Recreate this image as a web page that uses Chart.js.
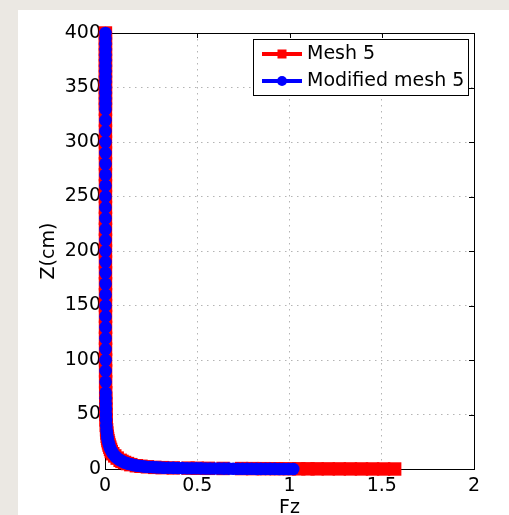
<!DOCTYPE html>
<html>
<head>
<meta charset="utf-8">
<script src="https://cdn.jsdelivr.net/npm/chart.js@4.4.1/dist/chart.umd.min.js"></script>
<style>
  html, body { margin: 0; padding: 0; background: #ebe8e3; }
  #fzChart { display: block; }
</style>
</head>
<body>
<canvas id="fzChart" width="509" height="515"></canvas>
<script>
// ===================== Fz vs depth profile =====================
var FONT = "'DejaVu Sans', 'Liberation Sans', Arial, sans-serif";

// near-surface points, Mesh 5
var zMesh5 = [0, 0.02, 0.04, 0.06, 0.08, 0.1, 0.12, 0.14, 0.16, 0.18, 0.2, 0.25, 0.3, 0.35, 0.4,
  0.5, 0.6, 0.7, 0.8, 1, 1.25, 1.5, 2, 2.5, 3, 4, 5, 6, 7, 8, 10, 12, 14, 16, 18, 20, 22, 24, 26, 28,
  30, 33, 36, 40, 45];
var fzMesh5 = [1.57, 1.51, 1.45, 1.39, 1.33, 1.27, 1.21, 1.15, 1.10, 1.05, 1.00, 0.93, 0.86, 0.80, 0.74,
  0.64, 0.56, 0.50, 0.45, 0.37, 0.31, 0.27, 0.23, 0.195, 0.17, 0.14, 0.122, 0.106, 0.092, 0.082, 0.066,
  0.053, 0.042, 0.034, 0.030, 0.026, 0.022, 0.019, 0.016, 0.014, 0.012, 0.010, 0.0085, 0.007, 0.0058];

// near-surface points, modified mesh 5
var zModified = [0, 0.02, 0.04, 0.06, 0.08, 0.10, 0.12, 0.14, 0.16, 0.18, 0.20, 0.23, 0.26, 0.29,
  0.32, 0.35, 0.39, 0.43, 0.47, 0.52, 0.57, 0.62, 0.68, 0.75, 0.82, 0.9, 1.0, 1.1, 1.2, 1.35, 1.5,
  1.7, 1.9, 2.1, 2.4, 2.7, 3.0, 3.4, 3.8, 4.3, 4.8, 5.4, 6, 7, 8, 9, 10, 11, 12, 13.5, 15, 16.5, 18,
  20, 22, 24, 26, 28, 30, 33, 36, 40, 45];
var fzModified = [1.02, 0.995, 0.97, 0.945, 0.92, 0.895, 0.87, 0.845, 0.82, 0.795, 0.77, 0.745, 0.72,
  0.695, 0.67, 0.645, 0.62, 0.595, 0.57, 0.545, 0.52, 0.495, 0.47, 0.445, 0.42, 0.395, 0.37, 0.345,
  0.32, 0.30, 0.28, 0.26, 0.24, 0.222, 0.205, 0.19, 0.176, 0.163, 0.151, 0.139, 0.128, 0.117, 0.107,
  0.094, 0.083, 0.074, 0.066, 0.059, 0.053, 0.046, 0.040, 0.035, 0.031, 0.026, 0.022, 0.019, 0.016,
  0.014, 0.012, 0.010, 0.0085, 0.007, 0.0058];

// deeper part, same for both meshes
var zDeep = [50, 55, 60, 65, 70, 80, 90, 100, 110, 120, 130, 140, 150, 160, 170, 180, 190, 200, 210,
  220, 230, 240, 250, 260, 270, 280, 290, 300, 310, 320, 330, 335, 340, 345, 350, 355, 360, 365, 370,
  375, 380, 385, 390, 395, 400];
var fzDeep = [0.0050, 0.0045, 0.0041, 0.0038, 0.0036, 0.0033, 0.0031, 0.0030, 0.0029, 0.0028, 0.0028,
  0.0027, 0.0027, 0.0026, 0.0026, 0.0026, 0.0025, 0.0025, 0.0025, 0.0025, 0.0025, 0.0024, 0.0024,
  0.0024, 0.0024, 0.0024, 0.0024, 0.0024, 0.0024, 0.0024, 0.0024, 0.0024, 0.0024, 0.0024, 0.0024,
  0.0024, 0.0024, 0.0024, 0.0024, 0.0024, 0.0024, 0.0024, 0.0024, 0.0024, 0.0024];

var xTicks = [0, 0.5, 1, 1.5, 2];
var yTicks = [0, 50, 100, 150, 200, 250, 300, 350, 400];
var seriesNames = ["Mesh 5", "Modified mesh 5"];

function toPoints(zs, fs) {
  return zs.map(function (z, i) { return { x: fs[i], y: z }; });
}

// gray page with the white figure panel
var panelBg = {
  id: "panelBg",
  beforeDraw: function (chart) {
    var c = chart.ctx;
    c.save();
    c.fillStyle = "#ebe8e3";
    c.fillRect(0, 0, chart.width, chart.height);
    c.fillStyle = "#ffffff";
    c.fillRect(18, 10, chart.width - 18, chart.height - 10);
    c.restore();
  }
};

// axes box with inward ticks (under the curves)
var axesBox = {
  id: "axesBox",
  beforeDatasetsDraw: function (chart) {
    var c = chart.ctx, a = chart.chartArea;
    var xs = chart.scales.x, ys = chart.scales.y;
    c.save();
    c.strokeStyle = "#000";
    c.lineWidth = 1;
    c.strokeRect(Math.round(a.left) + 0.5, Math.round(a.top) + 0.5,
      Math.round(a.right - a.left), Math.round(a.bottom - a.top));
    c.beginPath();
    xTicks.forEach(function (v) {
      var px = Math.round(xs.getPixelForValue(v)) + 0.5;
      c.moveTo(px, a.bottom); c.lineTo(px, a.bottom - 5);
      c.moveTo(px, a.top); c.lineTo(px, a.top + 5);
    });
    yTicks.forEach(function (v) {
      var py = Math.round(ys.getPixelForValue(v)) + 0.5;
      c.moveTo(a.left, py); c.lineTo(a.left + 5, py);
      c.moveTo(a.right, py); c.lineTo(a.right - 5, py);
    });
    c.stroke();
    c.restore();
  }
};

// boxed legend, line sample + marker
var boxLegend = {
  id: "boxLegend",
  afterDraw: function (chart) {
    var c = chart.ctx;
    var bx = 253, by = 39, bw = 215, bh = 56;
    c.save();
    c.fillStyle = "#fff";
    c.fillRect(bx, by, bw, bh);
    c.strokeStyle = "#000";
    c.lineWidth = 1;
    c.strokeRect(bx + 0.5, by + 0.5, bw, bh);
    chart.data.datasets.forEach(function (ds, i) {
      var yy = 54 + i * 27;
      c.strokeStyle = ds.borderColor;
      c.lineWidth = 4;
      c.beginPath();
      c.moveTo(262, yy); c.lineTo(302, yy);
      c.stroke();
      c.fillStyle = ds.borderColor;
      if (ds.pointStyle === "rect") {
        c.fillRect(277.5, yy - 4.5, 9, 9);
      } else {
        c.beginPath();
        c.arc(282, yy, 5, 0, Math.PI * 2);
        c.fill();
      }
      c.fillStyle = "#000";
      c.font = "19px " + FONT;
      c.textBaseline = "middle";
      c.textAlign = "left";
      c.fillText(ds.label, 307, yy);
    });
    c.restore();
  }
};

var ctx = document.getElementById("fzChart").getContext("2d");
var fzChart = new Chart(ctx, {
  type: "line",
  data: {
    datasets: [
      {
        label: seriesNames[0],
        data: toPoints(zMesh5.concat(zDeep), fzMesh5.concat(fzDeep)),
        borderColor: "#ff0000",
        backgroundColor: "#ff0000",
        borderWidth: 5,
        pointStyle: "rect",
        pointRadius: 9.5,
        pointBorderWidth: 0,
        pointBackgroundColor: "#ff0000",
        tension: 0,
        clip: false,
        order: 1
      },
      {
        label: seriesNames[1],
        data: toPoints(zModified.concat(zDeep), fzModified.concat(fzDeep)),
        borderColor: "#0000ff",
        backgroundColor: "#0000ff",
        borderWidth: 6,
        pointStyle: "circle",
        pointRadius: 6.3,
        pointBorderWidth: 0,
        pointBackgroundColor: "#0000ff",
        tension: 0,
        clip: false,
        order: 0
      }
    ]
  },
  options: {
    responsive: false,
    animation: false,
    events: [],
    layout: { padding: { left: 18, top: 33, right: 35, bottom: 0 } },
    plugins: { legend: { display: false }, tooltip: { enabled: false } },
    scales: {
      x: {
        type: "linear",
        min: 0,
        max: 2,
        afterBuildTicks: function (s) { s.ticks = xTicks.map(function (v) { return { value: v }; }); },
        afterFit: function (s) { s.height = 46; },
        grid: { color: "#b4b4b4", lineWidth: 1, drawTicks: false },
        border: { display: false, dash: [1.5, 4.5] },
        ticks: {
          color: "#000", font: { family: FONT, size: 19 }, padding: 6, maxRotation: 0, autoSkip: false,
          callback: function (v) { return String(v); }
        },
        title: { display: true, text: "Fz", color: "#000", font: { family: FONT, size: 19, lineHeight: 0.716 }, padding: 0 }
      },
      y: {
        type: "linear",
        min: 0,
        max: 400,
        afterBuildTicks: function (s) { s.ticks = yTicks.map(function (v) { return { value: v }; }); },
        afterFit: function (s) { s.width = 87; },
        grid: { color: "#b4b4b4", lineWidth: 1, drawTicks: false },
        border: { display: false, dash: [1.5, 4.5] },
        ticks: {
          color: "#000", font: { family: FONT, size: 19 }, padding: 4, autoSkip: false,
          callback: function (v) { return String(v); }
        },
        title: { display: true, text: "Z(cm)", color: "#000", font: { family: FONT, size: 19 }, padding: { top: 20, bottom: 0 } }
      }
    }
  },
  plugins: [panelBg, axesBox, boxLegend]
});
</script>
</body>
</html>
